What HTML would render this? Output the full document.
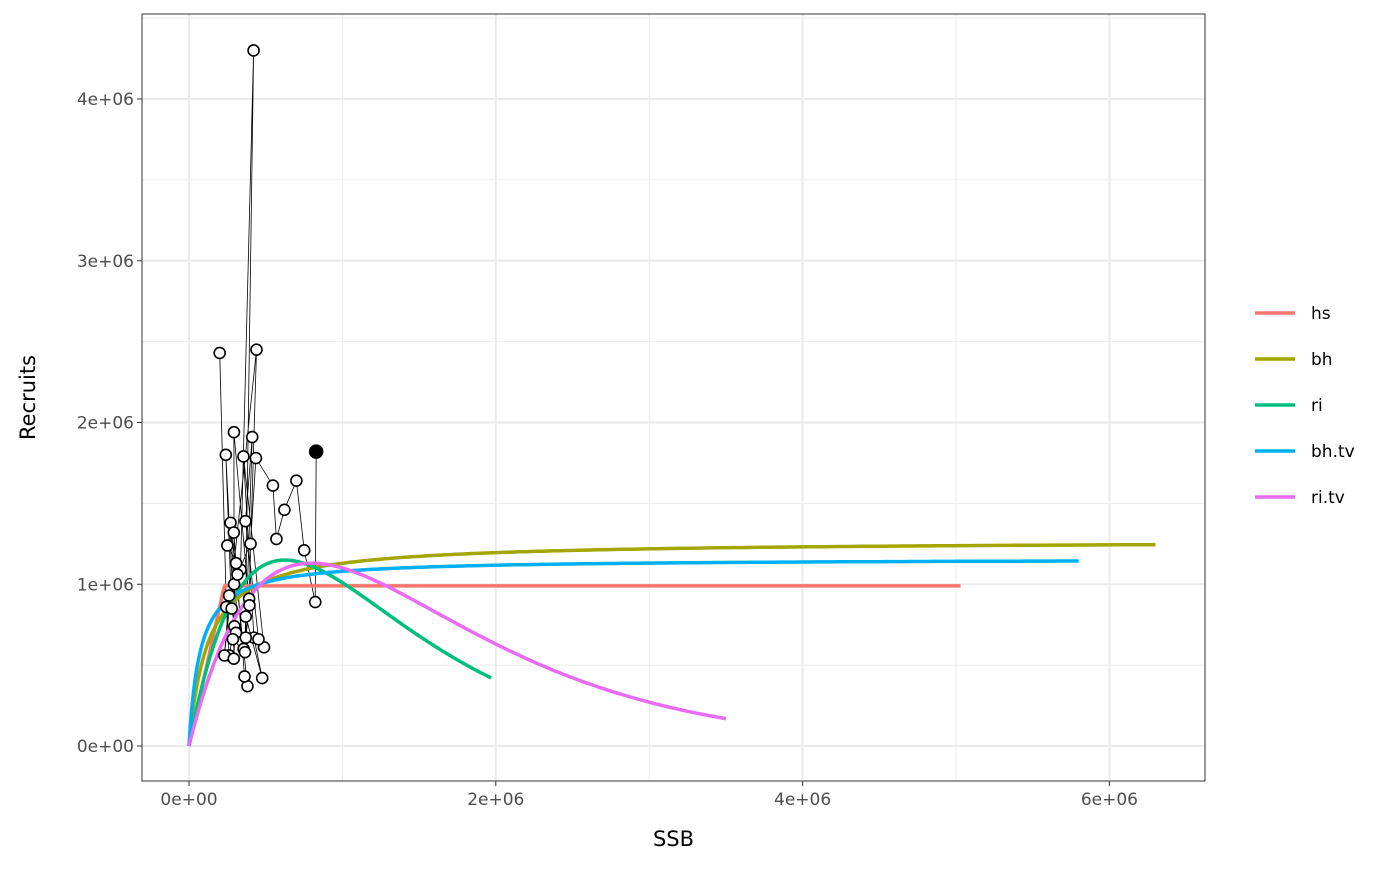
<!DOCTYPE html>
<html><head><meta charset="utf-8"><style>
body{margin:0;background:#fff;font-family:"Liberation Sans","DejaVu Sans",sans-serif}
svg text{font-family:"DejaVu Sans","Liberation Sans",sans-serif}
</style></head><body>
<svg id="chart" width="1400" height="866" xmlns="http://www.w3.org/2000/svg"></svg>
<script>
const xTicks=[0,2,4,6];
const xTickLabels=["0e+00","2e+06","4e+06","6e+06"];
const yTicks=[0,1,2,3,4];
const yTickLabels=["0e+00","1e+06","2e+06","3e+06","4e+06"];
const seriesNames=["hs","bh","ri","bh.tv","ri.tv"];
const seriesColors=["#F8766D","#A3A500","#00BF7D","#00B0F6","#E76BF3"];
const seriesMaxS=[5.03,6.3,1.97,5.8,3.5];
// observed SSB (millions) and recruits (millions), in time order
const obsSSB=[0.200,0.243,0.262,0.296,0.240,0.278,0.306,0.271,0.356,0.381,0.362,0.292,0.250,0.336,0.421,0.365,0.286,0.307,0.262,0.231,0.440,0.392,0.370,0.477,0.423,0.355,0.489,0.453,0.368,0.412,0.370,0.394,0.293,0.294,0.292,0.316,0.401,0.436,0.547,0.570,0.622,0.700,0.751,0.823,0.829];
const obsRec=[2.43,0.86,0.56,0.74,1.80,0.85,0.70,1.38,0.60,0.37,0.43,1.32,1.24,1.09,4.30,0.58,0.66,1.13,0.93,0.56,2.45,0.91,0.80,0.42,0.67,1.79,0.61,0.66,1.39,1.91,0.67,0.87,1.94,1.00,0.54,1.06,1.25,1.78,1.61,1.28,1.46,1.64,1.21,0.89,1.82];
const NS="http://www.w3.org/2000/svg";
const svg=document.getElementById('chart');
const L=142,R=1205,T=14,B=781;
const sx=v=>189+v*153.4;
const sy=v=>746-v*161.75;
function mk(tag,attrs,parent){const e=document.createElementNS(NS,tag);for(const k in attrs)e.setAttribute(k,attrs[k]);(parent||svg).appendChild(e);return e;}
const panel=mk('rect',{x:L,y:T,width:R-L,height:B-T,fill:'#fff'});


for(let i=0;i<xTicks.length-1;i++){const v=(xTicks[i]+xTicks[i+1])/2;const g=mk('line',{x1:sx(v),x2:sx(v),y1:T,y2:B,stroke:'#ebebeb','stroke-width':1});

}
for(let i=0;i<yTicks.length;i++){const v=yTicks[i]+0.5;if(sy(v)<T)continue;const g=mk('line',{x1:L,x2:R,y1:sy(v),y2:sy(v),stroke:'#ebebeb','stroke-width':1});

}
xTicks.forEach((v,i)=>{const g=mk('line',{x1:sx(v),x2:sx(v),y1:T,y2:B,stroke:'#ebebeb','stroke-width':2});


const t=mk('line',{x1:sx(v),x2:sx(v),y1:B,y2:B+5,stroke:'#333','stroke-width':1});


const l=mk('text',{x:sx(v),y:B+24,'text-anchor':'middle','font-size':17,fill:'#4d4d4d'});l.textContent=xTickLabels[i];

});
yTicks.forEach((v,i)=>{const g=mk('line',{x1:L,x2:R,y1:sy(v),y2:sy(v),stroke:'#ebebeb','stroke-width':2});


const t=mk('line',{x1:L-5,x2:L,y1:sy(v),y2:sy(v),stroke:'#333','stroke-width':1});


const l=mk('text',{x:L-8,y:sy(v)+6,'text-anchor':'end','font-size':17,fill:'#4d4d4d'});l.textContent=yTickLabels[i];

});
let d='';obsSSB.forEach((s,i)=>{d+=(i?'L':'M')+sx(s).toFixed(1)+','+sy(obsRec[i]).toFixed(1);});
const path=mk('path',{d:d,fill:'none',stroke:'#000','stroke-width':0.8});


const models=[
 S=>0.99*Math.min(S,0.23)/0.23,
 S=>1.269*S/(0.1233+S),
 S=>5.0*S*Math.exp(-1.6*S),
 S=>1.158*S/(0.0721+S),
 S=>3.84*S*Math.exp(-1.25*S)
];
models.forEach((f,k)=>{let p='';const n=200;for(let i=0;i<=n;i++){const S=seriesMaxS[k]*i/n*(i/n);p+=(i?'L':'M')+sx(S).toFixed(1)+','+sy(f(S)).toFixed(1);}
const e=mk('path',{d:p,fill:'none',stroke:seriesColors[k],'stroke-width':3.5,'stroke-linejoin':'round'});

});
obsSSB.forEach((s,i)=>{const last=i===obsSSB.length-1;const c=mk('circle',{cx:sx(s),cy:sy(obsRec[i]),r:last?6.5:5.5,fill:last?'#000':'#fff',stroke:'#000','stroke-width':1.6});

});
const border=mk('rect',{x:L,y:T,width:R-L,height:B-T,fill:'none',stroke:'#333','stroke-width':1});


const xt=mk('text',{x:(L+R)/2,y:846,'text-anchor':'middle','font-size':21,fill:'#000'});xt.textContent='SSB';


const yt=mk('text',{x:35,y:(T+B)/2,'text-anchor':'middle','font-size':21,fill:'#000',transform:'rotate(-90 35 '+((T+B)/2)+')'});yt.textContent='Recruits';


seriesNames.forEach((nm,k)=>{const y=313+k*46;
const ln=mk('line',{x1:1255,x2:1295,y1:y,y2:y,stroke:seriesColors[k],'stroke-width':3.5});


const t=mk('text',{x:1311,y:y+6,'font-size':17,fill:'#000'});t.textContent=nm;

});
</script>
</body></html>
